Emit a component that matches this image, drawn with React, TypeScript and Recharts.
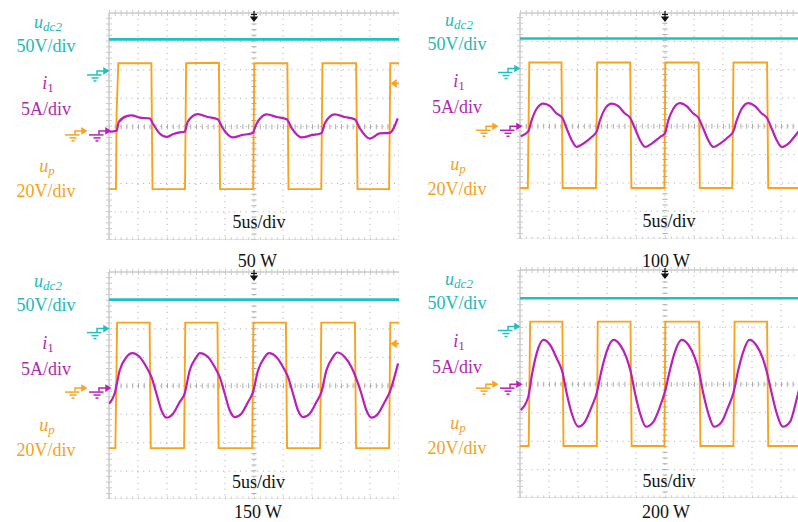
import React from "react";
import {
  LineChart,
  Line,
  XAxis,
  YAxis,
  CartesianGrid,
  ReferenceLine,
  ReferenceDot,
} from "recharts";

// time in us (5us/div, 10 div), levels in screen divisions (8 div, 0 = centre)
const timeTicks = [0, 5, 10, 15, 20, 25, 30, 35, 40, 45, 50];
const divTicks = [-4, -3, -2, -1, 0, 1, 2, 3, 4];

const captions = ["50 W", "100 W", "150 W", "200 W"];

// u_dc2 (cyan)
const udc50 = [[0, 3.07], [50, 3.07]];
const udc100 = [[0, 3.1], [50, 3.1]];
const udc150 = [[0, 3.03], [50, 3.03]];
const udc200 = [[0, 3.01], [50, 3.01]];

// u_p (orange)
const up50 = [
  [0, -2.2], [1.2, -2.2], [1.3, 0.4], [1.6, 2.23], [7.3, 2.23], [7.5, -2.2],
  [13.1, -2.2], [13.3, 2.23], [18.95, 2.25], [19.15, -2.2], [24.85, -2.2],
  [25.05, 2.23], [30.75, 2.23], [30.95, -2.2], [36.6, -2.2], [36.8, 2.23],
  [42.6, 2.23], [42.85, -2.2], [48.3, -2.2], [48.5, 2.23], [50, 2.23],
];
const up100 = [
  [0, -2.18], [1.35, -2.18], [1.6, 2.25], [7.15, 2.25], [7.35, -2.18],
  [13.1, -2.18], [13.3, 2.25], [19.0, 2.25], [19.2, -2.18], [24.9, -2.18],
  [25.05, 2.25], [30.8, 2.25], [31.0, -2.18], [36.6, -2.18], [36.8, 2.25],
  [42.6, 2.25], [42.8, -2.18], [48.3, -2.18], [48.5, 2.25], [50, 2.25],
];
const up150 = [
  [0, -2.19], [1.1, -2.19], [1.4, 2.22], [7.0, 2.22], [7.2, -2.19],
  [12.95, -2.19], [13.15, 2.22], [18.7, 2.22], [18.9, -2.19], [24.7, -2.19],
  [24.9, 2.22], [30.5, 2.22], [30.7, -2.19], [36.4, -2.19], [36.6, 2.22],
  [42.4, 2.22], [42.6, -2.19], [48.3, -2.19], [48.5, 2.22], [50, 2.22],
];
const up200 = [
  [0, -2.17], [1.5, -2.17], [1.75, 2.19], [7.3, 2.19], [7.5, -2.17],
  [13.25, -2.17], [13.4, 2.19], [19.05, 2.19], [19.25, -2.17], [24.9, -2.17],
  [25.05, 2.19], [30.9, 2.19], [31.1, -2.17], [36.8, -2.17], [37.0, 2.19],
  [42.6, 2.19], [42.8, -2.17], [48.5, -2.17], [48.7, 2.19], [50, 2.19],
];

// i_1 (magenta)
const i50 = [
  [0.1, -0.18], [1.33, -0.14], [1.67, 0.16], [3.05, 0.37], [3.91, 0.4], [5.29, 0.32],
  [7.02, 0.29], [7.53, 0.12], [8.74, -0.24], [9.95, -0.36], [10.98, -0.27], [12.19, -0.2],
  [13.05, -0.18], [13.57, 0.17], [15.29, 0.44], [17.02, 0.34], [18.74, 0.26], [19.6, -0.05],
  [21.33, -0.38], [22.88, -0.3], [24.77, -0.22], [25.46, 0.11], [27.19, 0.43], [28.91, 0.34],
  [30.64, 0.26], [31.5, -0.05], [33.22, -0.38], [34.95, -0.3], [36.67, -0.22], [37.19, 0.11],
  [38.91, 0.43], [40.64, 0.34], [42.36, 0.26], [43.22, -0.05], [44.95, -0.42], [46.67, -0.24],
  [48.4, -0.22], [49.78, 0.29],
];
const i100 = [
  [0.12, -0.35], [1.43, -0.18], [2.0, 0.21], [2.87, 0.62], [4.02, 0.8], [5.17, 0.71],
  [6.32, 0.45], [7.29, 0.31], [8.05, -0.08], [8.91, -0.49], [9.77, -0.73], [10.9, -0.61],
  [12.36, -0.38], [13.22, -0.18], [13.79, 0.21], [14.66, 0.62], [15.81, 0.8], [16.95, 0.71],
  [18.1, 0.45], [18.96, 0.31], [19.83, -0.08], [20.69, -0.49], [21.55, -0.73], [22.7, -0.61],
  [24.14, -0.38], [25.0, -0.24], [25.57, 0.21], [26.43, 0.62], [27.58, 0.82], [28.74, 0.71],
  [29.88, 0.45], [30.74, 0.31], [31.6, -0.08], [32.46, -0.49], [33.33, -0.73], [34.48, -0.61],
  [35.91, -0.38], [36.78, -0.18], [37.36, 0.21], [38.22, 0.62], [39.37, 0.82], [40.53, 0.71],
  [41.68, 0.45], [42.54, 0.31], [43.4, -0.08], [44.26, -0.49], [45.13, -0.73], [46.27, -0.61],
  [47.72, -0.26], [48.6, -0.05],
];
const i150 = [
  [0, -0.63], [0.98, -0.27], [1.84, 0.54], [3.0, 1.01], [4.03, 1.15], [5.29, 1.01],
  [6.45, 0.66], [7.31, 0.31], [8.17, -0.27], [9.03, -0.86], [9.9, -1.12], [11.03, -0.98],
  [12.19, -0.57], [13.05, -0.27], [13.91, 0.54], [15.07, 1.01], [15.64, 1.15], [17.07, 1.01],
  [18.22, 0.66], [19.08, 0.31], [19.95, -0.27], [20.81, -0.86], [21.67, -1.1], [22.82, -0.98],
  [23.97, -0.57], [24.83, -0.22], [25.7, 0.54], [26.84, 1.01], [27.58, 1.15], [28.86, 1.01],
  [30.0, 0.66], [30.86, 0.31], [31.72, -0.27], [32.58, -0.86], [33.45, -1.1], [34.6, -0.98],
  [35.76, -0.57], [36.62, -0.22], [37.48, 0.54], [38.62, 1.01], [39.37, 1.17], [40.64, 1.01],
  [41.79, 0.66], [42.53, 0.31], [43.51, -0.27], [44.38, -0.86], [45.24, -1.12], [46.38, -0.98],
  [47.53, -0.57], [48.4, -0.22], [49.83, 0.78],
];
const i200 = [
  [0.12, -0.91], [1.43, -0.44], [2.0, 0.26], [2.87, 1.08], [4.02, 1.55], [5.17, 1.38],
  [6.32, 0.91], [7.29, 0.44], [8.05, -0.32], [8.91, -1.02], [10.05, -1.49], [11.2, -1.32],
  [12.36, -0.79], [13.22, -0.32], [14.08, 0.5], [14.94, 1.14], [16.09, 1.55], [17.24, 1.38],
  [18.39, 0.91], [19.08, 0.44], [19.83, -0.32], [20.69, -1.02], [21.72, -1.49], [22.99, -1.32],
  [24.14, -0.79], [25.0, -0.26], [25.86, 0.5], [26.72, 1.14], [27.87, 1.55], [29.02, 1.38],
  [30.17, 0.91], [30.86, 0.44], [31.6, -0.32], [32.46, -1.02], [33.45, -1.49], [34.77, -1.32],
  [35.91, -0.79], [36.78, -0.32], [37.64, 0.5], [38.5, 1.14], [39.54, 1.55], [40.69, 1.38],
  [41.85, 0.91], [42.54, 0.44], [43.4, -0.32], [44.26, -1.02], [45.29, -1.49], [46.55, -1.32],
  [47.8, -0.44], [48.6, 0.2],
];

// channel ground markers and trigger level (divisions)
const gndUdc = [1.96, 2.04, 2.01, 2.02];
const gndUp = [-0.15, 0.0, -0.08, 0.0];
const trigLevel = [1.52, null, 1.48, null];

const CYAN = "#1EC0C0";
const MAGENTA = "#B91FB9";
const ORANGE = "#F9A31C";
const TEAL_TXT = "#22B8B8";
const MAG_TXT = "#B02AB0";
const ORG_TXT = "#F4A21E";
const FONT = "'Liberation Serif', 'Times New Roman', serif";

const pts = (a: number[][]) => a.map(([t, v]) => ({ t, v }));

const Ground = (color: string, dx: number) => (p: any) => {
  const tx = p.cx + dx;
  const ty = p.cy;
  return (
    <g stroke={color} strokeWidth={1.5} fill="none">
      <path d={`M${tx - 11},${ty + 3.5} V${ty} H${tx - 3}`} />
      <path d={`M${tx - 4},${ty - 2.5} L${tx},${ty} L${tx - 4},${ty + 2.5} Z`} fill={color} />
      <line x1={tx - 21} x2={tx - 6.5} y1={ty + 4} y2={ty + 4} />
      <line x1={tx - 16.5} x2={tx - 9.5} y1={ty + 7} y2={ty + 7} />
      <line x1={tx - 14.5} x2={tx - 11.5} y1={ty + 10} y2={ty + 10} />
    </g>
  );
};

const TrigTop = (p: any) => (
  <g stroke="#111" strokeWidth={1.2}>
    <line x1={p.cx} x2={p.cx} y1={p.cy - 2} y2={p.cy + 5} />
    <line x1={p.cx - 3} x2={p.cx + 3} y1={p.cy + 1.5} y2={p.cy + 1.5} />
    <path d={`M${p.cx - 3},${p.cy + 4} L${p.cx + 3},${p.cy + 4} L${p.cx},${p.cy + 8} Z`} fill="#111" />
  </g>
);

const TrigRight = (p: any) => (
  <g stroke={ORANGE} strokeWidth={1.5} fill={ORANGE}>
    <line x1={p.cx - 6} x2={p.cx} y1={p.cy} y2={p.cy} />
    <path d={`M${p.cx - 7},${p.cy} L${p.cx - 3},${p.cy - 3} L${p.cx - 3},${p.cy + 3} Z`} />
  </g>
);

interface PanelProps {
  idx: number;
  left: number;
  top: number;
  h: number;
  udc: number[][];
  up: number[][];
  i1: number[][];
}

const Panel: React.FC<PanelProps> = ({ idx, left, top, h, udc, up, i1 }) => {
  const ML = 50;
  const MT = 10;
  return (
    <div style={{ position: "absolute", left: left - ML, top: top - MT }}>
      <LineChart width={ML + 290} height={MT + h} margin={{ top: MT, right: 0, bottom: 0, left: ML }}>
        <XAxis type="number" dataKey="t" domain={[0, 50]} ticks={timeTicks} hide allowDataOverflow />
        <YAxis type="number" domain={[-4, 4]} ticks={divTicks} hide allowDataOverflow />
        <CartesianGrid stroke="#aaaaaa" strokeDasharray="1 4.7" />
        <ReferenceLine x={25} stroke="#aaaaaa" strokeWidth={5} strokeDasharray="1 4.68" />
        <ReferenceLine y={0} stroke="#aaaaaa" strokeWidth={5} strokeDasharray="1 4.8" />
        <ReferenceLine x={0} stroke="#cccccc" strokeWidth={1.5} />
        <ReferenceLine x={0} stroke="#cccccc" strokeWidth={6} strokeDasharray="1 4.68" />
        <ReferenceLine y={4} stroke="#cccccc" strokeWidth={1.5} />
        <ReferenceLine y={4} stroke="#cccccc" strokeWidth={6} strokeDasharray="1 4.8" />
        <ReferenceLine y={-4} stroke="#cccccc" strokeWidth={1.5} />
        <ReferenceLine y={-4} stroke="#cccccc" strokeWidth={6} strokeDasharray="1 4.8" />
        <Line data={pts(up)} dataKey="v" type="linear" stroke={ORANGE} strokeWidth={1.9} dot={false} isAnimationActive={false} />
        <Line data={pts(i1)} dataKey="v" type="monotone" stroke={MAGENTA} strokeWidth={2.2} dot={false} isAnimationActive={false} />
        <Line data={pts(udc)} dataKey="v" type="linear" stroke={CYAN} strokeWidth={2.7} dot={false} isAnimationActive={false} />
        <ReferenceDot x={0} y={gndUdc[idx]} r={0} shape={Ground(CYAN, -1)} />
        <ReferenceDot x={0} y={gndUp[idx]} r={0} shape={Ground(ORANGE, -23)} />
        <ReferenceDot x={0} y={gndUp[idx]} r={0} shape={Ground(MAGENTA, 1)} />
        <ReferenceDot x={25} y={4} r={0} shape={TrigTop} />
        {trigLevel[idx] !== null && (
          <ReferenceDot x={50} y={trigLevel[idx] as number} r={0} shape={TrigRight} />
        )}
      </LineChart>
    </div>
  );
};

const ChannelLabels: React.FC<{ cx: number; dy: number }> = ({ cx, dy }) => (
  <g fontFamily={FONT} fontSize={18} textAnchor="middle">
    <text x={cx + 2} y={dy + 27.5} fill={TEAL_TXT} fontStyle="italic">
      u<tspan fontSize={13} dy={3}>dc2</tspan>
    </text>
    <text x={cx} y={dy + 51.5} fill={TEAL_TXT}>50V/div</text>
    <text x={cx + 2} y={dy + 89} fill={MAG_TXT}>
      <tspan fontStyle="italic">i</tspan>
      <tspan fontSize={13} dy={3}>1</tspan>
    </text>
    <text x={cx} y={dy + 115} fill={MAG_TXT}>5A/div</text>
    <text x={cx + 1} y={dy + 171.5} fill={ORG_TXT} fontStyle="italic">
      u<tspan fontSize={13} dy={3}>p</tspan>
    </text>
    <text x={cx} y={dy + 196.5} fill={ORG_TXT}>20V/div</text>
  </g>
);

const App: React.FC = () => {
  return (
    <div
      style={{
        position: "fixed",
        left: 0,
        top: 0,
        width: 798,
        height: 522,
        overflow: "hidden",
        background: "#fff",
      }}
    >
      <Panel idx={0} left={109.3} top={12.7} h={227.3} udc={udc50} up={up50} i1={i50} />
      <Panel idx={1} left={520} top={12.7} h={226.6} udc={udc100} up={up100} i1={i100} />
      <Panel idx={2} left={109.3} top={271.7} h={227.6} udc={udc150} up={up150} i1={i150} />
      <Panel idx={3} left={520} top={270} h={228.3} udc={udc200} up={up200} i1={i200} />
      <svg width={798} height={522} style={{ position: "absolute", left: 0, top: 0, pointerEvents: "none" }}>
        <ChannelLabels cx={46} dy={0} />
        <ChannelLabels cx={457} dy={-2} />
        <ChannelLabels cx={46} dy={259.5} />
        <ChannelLabels cx={457} dy={257.5} />
        <g fontFamily={FONT} fontSize={18} textAnchor="middle" fill="#111">
          <text x={259} y={228.3}>5us/div</text>
          <text x={669} y={226.7}>5us/div</text>
          <text x={258.5} y={488.3}>5us/div</text>
          <text x={669} y={486.7}>5us/div</text>
          <text x={257.3} y={266.5}>{captions[0]}</text>
          <text x={666} y={266.5}>{captions[1]}</text>
          <text x={258} y={518}>{captions[2]}</text>
          <text x={666} y={517.5}>{captions[3]}</text>
        </g>
      </svg>
    </div>
  );
};

export default App;
